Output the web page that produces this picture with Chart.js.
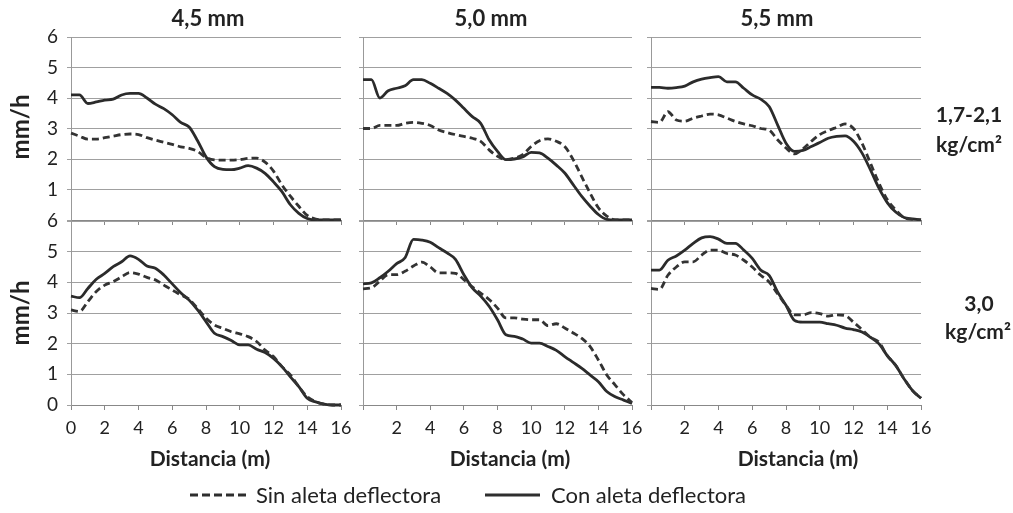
<!DOCTYPE html>
<html><head><meta charset="utf-8">
<script src="https://cdn.jsdelivr.net/npm/chart.js@4.4.1/dist/chart.umd.min.js"></script>
<style>
html,body{margin:0;padding:0;background:#fff;}
#wrap{position:relative;width:1013px;height:513px;overflow:hidden;font-family:Lato,"Open Sans",sans-serif;color:#222;}
canvas{position:absolute;left:0;top:0;}
.t{position:absolute;white-space:nowrap;font-weight:bold;font-size:21px;transform:translate(-50%,-50%);line-height:1;}
.r{transform:translate(-50%,-50%) rotate(-90deg);font-size:24px;}
.lg{position:absolute;white-space:nowrap;font-size:22px;line-height:1;transform:translateY(-50%);}
</style></head><body>
<div id="wrap">
<canvas id="c0" width="1013" height="513"></canvas>
<canvas id="c1" width="1013" height="513"></canvas>
<canvas id="c2" width="1013" height="513"></canvas>
<canvas id="c3" width="1013" height="513"></canvas>
<canvas id="c4" width="1013" height="513"></canvas>
<canvas id="c5" width="1013" height="513"></canvas>
<div class="t" style="left:208px;top:18px;font-size:22px">4,5 mm</div>
<div class="t" style="left:491px;top:18px;font-size:22px">5,0 mm</div>
<div class="t" style="left:777px;top:18px;font-size:22px">5,5 mm</div>
<div class="t r" style="left:20px;top:127px">mm/h</div>
<div class="t r" style="left:20px;top:313px">mm/h</div>
<div class="t" style="left:969px;top:113px">1,7-2,1</div>
<div class="t" style="left:969px;top:143px">kg/cm²</div>
<div class="t" style="left:979px;top:302px">3,0</div>
<div class="t" style="left:978px;top:330px">kg/cm²</div>
<div class="t" style="left:210px;top:457px">Distancia (m)</div>
<div class="t" style="left:510px;top:457px">Distancia (m)</div>
<div class="t" style="left:798px;top:457px">Distancia (m)</div>
<svg style="position:absolute;left:0;top:0" width="1013" height="513">
<line x1="190" y1="495" x2="247" y2="495" stroke="#2e2e2e" stroke-width="3" stroke-dasharray="8,4"/>
<line x1="485" y1="495" x2="540" y2="495" stroke="#2e2e2e" stroke-width="3"/>
</svg>
<div class="lg" style="left:256px;top:495px">Sin aleta deflectora</div>
<div class="lg" style="left:551px;top:495px">Con aleta deflectora</div>
</div>
<script>
// Distance (m)
const distances = [0,0.5,1,1.5,2,2.5,3,3.5,4,4.5,5,5.5,6,6.5,7,7.5,8,8.5,9,9.5,10,10.5,11,11.5,12,12.5,13,13.5,14,14.5,15,15.5,16];
const yTicks = [0,1,2,3,4,5,6];
const xTicks = [0,2,4,6,8,10,12,14,16];
const nozzles = ['4,5 mm','5,0 mm','5,5 mm'];
const pressures = ['1,7-2,1 kg/cm²','3,0 kg/cm²'];
const seriesNames = ['Sin aleta deflectora','Con aleta deflectora'];

// Pressure 1,7-2,1 kg/cm2
const sin45_a = [2.85,2.75,2.65,2.65,2.7,2.75,2.8,2.82,2.8,2.7,2.62,2.55,2.48,2.4,2.35,2.25,2.05,1.97,1.96,1.96,1.98,2.02,2.03,1.9,1.6,1.15,0.78,0.45,0.15,0.03,0,0,0];
const con45_a = [4.1,4.1,3.82,3.87,3.93,3.96,4.1,4.15,4.15,4.0,3.8,3.65,3.45,3.2,3.05,2.6,2.07,1.75,1.66,1.65,1.7,1.78,1.7,1.53,1.25,0.93,0.5,0.22,0.05,0,0,0,0];
const sin50_a = [3.0,3.0,3.1,3.1,3.1,3.17,3.2,3.17,3.1,2.95,2.87,2.8,2.74,2.68,2.58,2.3,2.09,1.98,2.03,2.14,2.41,2.6,2.66,2.58,2.41,1.98,1.43,0.89,0.4,0.13,0,0,0];
const con50_a = [4.6,4.6,4.0,4.24,4.32,4.4,4.6,4.6,4.48,4.32,4.15,3.93,3.66,3.39,3.17,2.63,2.25,1.98,2.0,2.07,2.22,2.2,2.03,1.8,1.54,1.16,0.78,0.46,0.18,0.02,0,0,0];
const sin55_a = [3.23,3.2,3.55,3.28,3.24,3.34,3.41,3.47,3.45,3.34,3.23,3.15,3.09,3.0,2.95,2.63,2.36,2.17,2.33,2.58,2.8,2.93,3.04,3.15,3.0,2.52,1.87,1.22,0.67,0.33,0.08,0.02,0];
const con55_a = [4.35,4.35,4.32,4.34,4.39,4.53,4.62,4.67,4.7,4.53,4.53,4.32,4.1,3.96,3.72,3.12,2.52,2.25,2.28,2.41,2.54,2.68,2.74,2.76,2.58,2.2,1.65,1.05,0.57,0.26,0.08,0.04,0];

// Pressure 3,0 kg/cm2
const sin45_b = [3.1,3.05,3.37,3.7,3.91,4.02,4.18,4.32,4.27,4.16,4.08,3.91,3.75,3.59,3.45,3.15,2.83,2.61,2.5,2.39,2.32,2.23,2.07,1.79,1.58,1.25,0.98,0.6,0.27,0.11,0.03,0,0];
const con45_b = [3.55,3.5,3.8,4.1,4.29,4.51,4.67,4.86,4.75,4.53,4.46,4.24,3.95,3.66,3.42,3.1,2.72,2.34,2.23,2.1,1.96,1.96,1.82,1.71,1.52,1.25,0.92,0.6,0.22,0.1,0.03,0,0];
const sin50_b = [3.79,3.82,4.04,4.25,4.25,4.36,4.53,4.66,4.5,4.31,4.31,4.29,4.09,3.85,3.65,3.44,3.16,2.84,2.84,2.8,2.78,2.78,2.59,2.65,2.51,2.35,2.18,1.91,1.47,0.98,0.65,0.33,0.08];
const con50_b = [3.95,3.98,4.15,4.36,4.61,4.8,5.4,5.38,5.31,5.13,4.96,4.75,4.25,3.82,3.55,3.22,2.78,2.29,2.24,2.15,2.02,2.02,1.91,1.78,1.58,1.39,1.2,0.98,0.76,0.44,0.27,0.16,0.05];
const sin55_b = [3.8,3.77,4.23,4.5,4.67,4.67,4.89,5.05,5.05,4.94,4.89,4.72,4.5,4.23,4.01,3.63,3.25,2.94,2.94,3.01,2.98,2.9,2.94,2.92,2.7,2.46,2.21,2.05,1.61,1.29,0.85,0.47,0.22];
const con55_b = [4.4,4.4,4.72,4.86,5.05,5.27,5.45,5.49,5.41,5.27,5.27,5.05,4.78,4.4,4.23,3.69,3.25,2.76,2.7,2.7,2.7,2.65,2.6,2.51,2.46,2.38,2.21,2.0,1.61,1.29,0.85,0.47,0.22];

const W = 1013, H = 513;
const cols = [{l:71,r:341},{l:363,r:632},{l:651,r:921}];
const rows = [{t:37,b:220},{t:221,b:405}];
const FONT = 'Lato, "Open Sans", sans-serif';

function pts(arr){ return arr.map((v,i)=>({x:distances[i], y:v})); }

function panel(id, col, row, sin, con){
  const yW = col===0 ? 40 : 10;
  const xH = row===1 ? 40 : 10;
  const c = cols[col], r = rows[row];
  new Chart(document.getElementById(id), {
    type:'line',
    data:{datasets:[
      {label:seriesNames[0], data:pts(sin), borderColor:'#333', borderWidth:2.8, borderDash:[7,4], pointRadius:0, cubicInterpolationMode:'monotone', fill:false, clip:false},
      {label:seriesNames[1], data:pts(con), borderColor:'#2b2b2b', borderWidth:2.8, pointRadius:0, cubicInterpolationMode:'monotone', fill:false, clip:false}
    ]},
    options:{
      responsive:false, animation:false, events:[],
      layout:{padding:{left:c.l-yW, right:W-c.r, top:r.t, bottom:H-r.b-xH}},
      plugins:{legend:{display:false}, tooltip:{enabled:false}},
      scales:{
        x:{type:'linear', min:xTicks[0], max:xTicks[xTicks.length-1],
          afterFit(s){ s.height = xH; },
          afterBuildTicks(s){ s.ticks = xTicks.map(v=>({value:v})); },
          ticks:{display:row===1, autoSkip:false, maxRotation:0, font:{family:FONT,size:18}, color:'#222', padding:7,
            callback:v => (col>0 && v===0) ? '' : String(v)},
          grid:{drawOnChartArea:false, tickLength:5, color:'#888'},
          border:{display:true, color:'#888', width:1}
        },
        y:{type:'linear', min:yTicks[0], max:yTicks[yTicks.length-1],
          afterFit(s){ s.width = yW; },
          afterBuildTicks(s){ s.ticks = yTicks.map(v=>({value:v})); },
          ticks:{display:col===0, font:{family:FONT,size:19}, color:'#222', padding:9,
            callback:v => (row===0 && v===0) ? '' : String(v)},
          grid:{color:'#a0a0a0', lineWidth:1, tickLength:4},
          border:{display:true, color:'#999', width:1}
        }
      }
    }
  });
}

panel('c0',0,0,sin45_a,con45_a);
panel('c1',1,0,sin50_a,con50_a);
panel('c2',2,0,sin55_a,con55_a);
panel('c3',0,1,sin45_b,con45_b);
panel('c4',1,1,sin50_b,con50_b);
panel('c5',2,1,sin55_b,con55_b);
</script>
</body></html>
